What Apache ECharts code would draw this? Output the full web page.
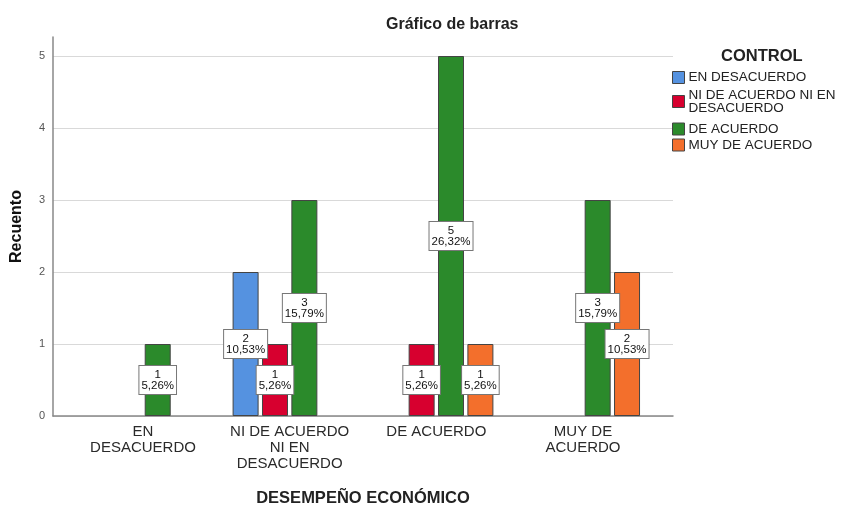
<!DOCTYPE html>
<html>
<head>
<meta charset="utf-8">
<title>Gráfico de barras</title>
<script src="https://cdn.jsdelivr.net/npm/echarts@6/dist/echarts.min.js"></script>
<style>
  html, body { margin: 0; padding: 0; background: #fff; }
  #chart { width: 841px; height: 506px; }
</style>
</head>
<body>
<div id="chart"></div>
<script>
// categorías del eje X (DESEMPEÑO ECONÓMICO)
const categories = ['EN DESACUERDO', 'NI DE ACUERDO NI EN DESACUERDO', 'DE ACUERDO', 'MUY DE ACUERDO']
// niveles de CONTROL (una serie por nivel)
const controlLevels = ['EN DESACUERDO', 'NI DE ACUERDO NI EN DESACUERDO', 'DE ACUERDO', 'MUY DE ACUERDO']
// recuentos, en el orden de categories
const enDesacuerdo = [0, 2, 0, 0]
const niDeAcuerdo = [0, 1, 1, 0]
const deAcuerdo = [1, 3, 5, 3]
const muyDeAcuerdo = [0, 0, 1, 2]
const yTicks = [0, 1, 2, 3, 4, 5]

const seriesValues = [enDesacuerdo, niDeAcuerdo, deAcuerdo, muyDeAcuerdo]
const colors = ['#5592e0', '#d7002f', '#2b8a2b', '#f36f2c']
const font = "'Liberation Sans', Arial, sans-serif"

// saltos de línea como en el gráfico original
const axisText = {
  'EN DESACUERDO': 'EN\nDESACUERDO',
  'NI DE ACUERDO NI EN DESACUERDO': 'NI DE ACUERDO\nNI EN\nDESACUERDO',
  'MUY DE ACUERDO': 'MUY DE\nACUERDO'
}
const legendText = {
  'NI DE ACUERDO NI EN DESACUERDO': 'NI DE ACUERDO NI EN\nDESACUERDO'
}

const total = seriesValues.reduce((s, arr) => s + arr.reduce((a, b) => a + b, 0), 0)
const yMax = 5.264 // el eje llega un poco por encima de 5
const legendTops = [70.5, 88, 122, 138]

const chart = echarts.init(document.getElementById('chart'))

chart.setOption({
  animation: false,
  textStyle: { fontFamily: font, color: '#222' },
  title: [{
    text: 'Gráfico de barras',
    left: 381,
    top: 12,
    textStyle: { fontSize: 16, fontWeight: 'bold', color: '#222', fontFamily: font }
  }, {
    text: 'CONTROL',
    left: 716,
    top: 43,
    textStyle: { fontSize: 16.5, fontWeight: 'bold', color: '#222', fontFamily: font }
  }],
  legend: controlLevels.map((name, i) => ({
    data: [name],
    orient: 'vertical',
    left: 672,
    top: legendTops[i],
    padding: 0,
    itemWidth: 12,
    itemHeight: 12,
    itemGap: 5,
    icon: 'rect',
    selectedMode: false,
    itemStyle: { borderColor: '#444', borderWidth: 1 },
    formatter: n => legendText[n] || n,
    textStyle: { fontSize: 13.5, lineHeight: 13, color: '#222', fontFamily: font, padding: [0, 0, 0, -1] }
  })),
  grid: [
    { left: 53, width: 620, top: 37, bottom: 90, outerBoundsMode: 'none' },
    { left: 69.7, width: 586.6, top: 37, bottom: 90, outerBoundsMode: 'none' }
  ],
  xAxis: [{
    gridIndex: 0,
    type: 'value',
    min: 0,
    max: 1,
    name: 'DESEMPEÑO ECONÓMICO',
    nameLocation: 'middle',
    nameGap: 74,
    nameTextStyle: { fontSize: 16.5, fontWeight: 'bold', color: '#222', fontFamily: font },
    axisLine: { show: true, lineStyle: { color: '#888', width: 1.5 } },
    axisTick: { show: false },
    axisLabel: { show: false },
    splitLine: { show: false }
  }, {
    gridIndex: 1,
    type: 'category',
    data: categories,
    axisLine: { show: false },
    axisTick: { show: false },
    axisLabel: {
      interval: 0,
      margin: 8,
      fontSize: 15,
      lineHeight: 16,
      color: '#2a2a2a',
      fontFamily: font,
      formatter: v => axisText[v] || v
    }
  }],
  yAxis: [{
    gridIndex: 0,
    type: 'value',
    min: yTicks[0],
    max: yMax,
    interval: 1,
    name: 'Recuento',
    nameLocation: 'middle',
    nameGap: 28,
    nameTextStyle: { fontSize: 16, fontWeight: 'bold', color: '#111', fontFamily: font },
    axisLine: { show: true, lineStyle: { color: '#888', width: 1.5 } },
    axisTick: { show: false },
    axisLabel: {
      margin: 8,
      fontSize: 11,
      color: '#555',
      fontFamily: font,
      formatter: v => (yTicks.includes(v) ? String(v) : '')
    },
    splitLine: { show: true, showMaxLine: false, lineStyle: { color: '#d9d9d9', width: 1 } }
  }, {
    gridIndex: 1,
    type: 'value',
    min: yTicks[0],
    max: yMax,
    show: false,
    splitLine: { show: false }
  }],
  series: controlLevels.map((name, i) => ({
    name,
    type: 'bar',
    xAxisIndex: 1,
    yAxisIndex: 1,
    barWidth: 26,
    barGap: '13%',
    data: seriesValues[i].map(v => (v === 0 ? '-' : v)),
    itemStyle: { color: colors[i], borderColor: '#444', borderWidth: 1 },
    label: {
      show: true,
      position: 'inside',
      formatter: p => p.value + '\n' + (p.value / total * 100).toFixed(2).replace('.', ',') + '%',
      fontSize: 11.5,
      lineHeight: 11,
      color: '#111',
      fontFamily: font,
      backgroundColor: '#fff',
      borderColor: '#777',
      borderWidth: 1,
      padding: [3, 2, 3, 2]
    }
  }))
})
</script>
</body>
</html>
